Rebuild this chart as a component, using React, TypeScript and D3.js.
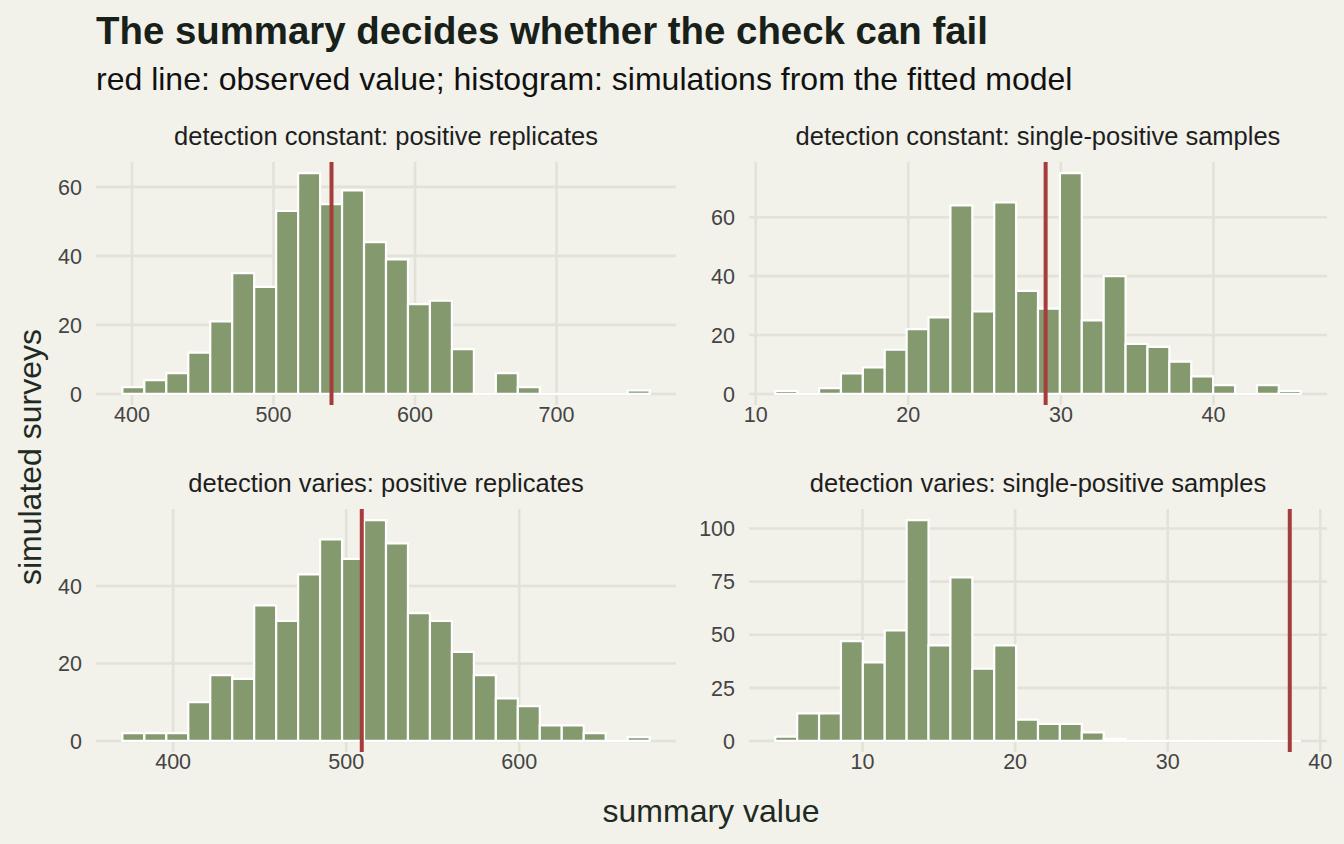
import * as d3 from "d3";

// facet strip labels, in reading order
const panelTitles = [
  "detection constant: positive replicates",
  "detection constant: single-positive samples",
  "detection varies: positive replicates",
  "detection varies: single-positive samples",
];

// centre of first and last histogram bin (24 bins each)
const binCentres: [number, number][] = [
  [401, 758],
  [12, 45],
  [377, 669],
  [5, 38],
];

const countsConstRep = [2, 4, 6, 12, 21, 35, 31, 53, 64, 55, 59, 44, 39, 26, 27, 13, 0, 6, 2, 0, 0, 0, 0, 1];
const countsConstSingle = [1, 0, 2, 7, 9, 15, 22, 26, 64, 28, 65, 35, 29, 75, 25, 40, 17, 16, 11, 6, 3, 0, 3, 1];
const countsVaryRep = [2, 2, 2, 10, 17, 16, 35, 31, 43, 52, 47, 57, 51, 33, 31, 23, 17, 11, 9, 4, 4, 2, 0, 1];
const countsVarySingle = [2, 13, 13, 47, 37, 52, 104, 45, 77, 34, 45, 10, 8, 8, 4, 1, 0, 0, 0, 0, 0, 0, 0, 0];
const panelCounts = [countsConstRep, countsConstSingle, countsVaryRep, countsVarySingle];

// observed summary value per panel
const observed = [541, 29, 509, 38];

const xTicks = [
  [400, 500, 600, 700],
  [10, 20, 30, 40],
  [400, 500, 600],
  [10, 20, 30, 40],
];
const yTicks = [
  [0, 20, 40, 60],
  [0, 20, 40, 60],
  [0, 20, 40],
  [0, 25, 50, 75, 100],
];

const W = 1344;
const H = 844;
const BG = "#f2f1ea";
const GRID = "#e3e2d8";
const BAR = "#84996e";
const RED = "#a63d3d";
const FONT = "'Liberation Sans', Arial, Helvetica, sans-serif";

const cols = [
  [96, 676],
  [749, 1327],
];
const rows = [
  [162, 405],
  [509, 752],
];

function Panel({ idx }: { idx: number }) {
  const [x0, x1] = cols[idx % 2];
  const [y0, y1] = rows[Math.floor(idx / 2)];
  const counts = panelCounts[idx];
  const [lo, hi] = binCentres[idx];
  const bw = (hi - lo) / (counts.length - 1);
  const start = lo - bw / 2;
  const end = hi + bw / 2;
  const padX = (end - start) * 0.05;
  const x = d3.scaleLinear().domain([start - padX, end + padX]).range([x0, x1]);
  const maxC = d3.max(counts) || 1;
  const y = d3.scaleLinear().domain([-maxC * 0.05, maxC * 1.05]).range([y1, y0]);

  // each bin as an outlined path so empty bins still leave a white edge
  const bars = counts.map((c, i) => {
    const a = x(start + i * bw);
    const b = x(start + (i + 1) * bw);
    const base = y(0);
    const top = y(c);
    return `M${a},${base}V${top}H${b}V${base}Z`;
  });

  return (
    <g>
      {yTicks[idx].map((t) => (
        <line key={"gy" + t} x1={x0} x2={x1} y1={y(t)} y2={y(t)} stroke={GRID} strokeWidth={2.6} />
      ))}
      {xTicks[idx].map((t) => (
        <line key={"gx" + t} x1={x(t)} x2={x(t)} y1={y0} y2={y1} stroke={GRID} strokeWidth={2.6} />
      ))}
      {bars.map((d, i) => (
        <path key={i} d={d} fill={BAR} stroke="#ffffff" strokeWidth={2.2} />
      ))}
      <line x1={x(observed[idx])} x2={x(observed[idx])} y1={y0} y2={y1} stroke={RED} strokeWidth={4} />
      {yTicks[idx].map((t) => (
        <text key={"ty" + t} x={x0 - 14} y={y(t)} dy="0.36em" textAnchor="end" fontSize={21.5} fill="#444">
          {t}
        </text>
      ))}
      {xTicks[idx].map((t) => (
        <text key={"tx" + t} x={x(t)} y={y1 + 17} textAnchor="middle" fontSize={21.5} fill="#444">
          {t}
        </text>
      ))}
      <text x={(x0 + x1) / 2} y={y0 - 17} textAnchor="middle" fontSize={25.5} fill="#1e1e1e">
        {panelTitles[idx]}
      </text>
    </g>
  );
}

export default function App() {
  return (
    <div style={{ position: "fixed", left: 0, top: 0, width: W, height: H }}>
      <svg width={W} height={H} style={{ display: "block", fontFamily: FONT }}>
        <rect width={W} height={H} fill={BG} />
        <text x={96} y={44} fontSize={38.4} fontWeight="bold" fill="#17211a">
          The summary decides whether the check can fail
        </text>
        <text x={96} y={90} fontSize={32} fill="#111">
          red line: observed value; histogram: simulations from the fitted model
        </text>
        {panelTitles.map((_, i) => (
          <Panel key={i} idx={i} />
        ))}
        <text x={711} y={822} textAnchor="middle" fontSize={32} fill="#1f2a22">
          summary value
        </text>
        <text
          transform={`translate(41, 457) rotate(-90)`}
          textAnchor="middle"
          fontSize={32}
          fill="#1f2a22"
        >
          simulated surveys
        </text>
      </svg>
    </div>
  );
}
